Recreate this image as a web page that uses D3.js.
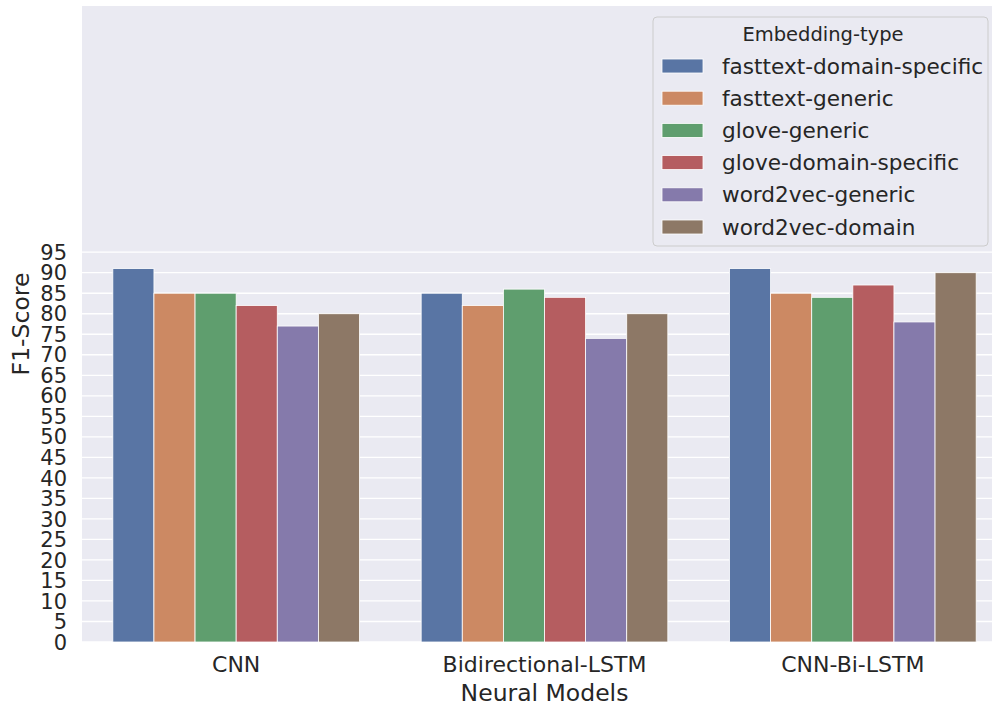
<!DOCTYPE html>
<html>
  <head>
    <meta charset="utf-8">
    <script type="text/javascript" src="https://d3js.org/d3.v7.min.js"></script>
    <style>
      body { margin: 0; background: #ffffff; }
      text { font-family: "DejaVu Sans", sans-serif; fill: #262626; }
    </style>
  </head>
  <body>
    <script>
        // neural models on the x axis
        var models = ["CNN", "Bidirectional-LSTM", "CNN-Bi-LSTM"];

        // embedding types (hue)
        var embeddings = ["fasttext-domain-specific", "fasttext-generic", "glove-generic",
                          "glove-domain-specific", "word2vec-generic", "word2vec-domain"];

        // f1 scores, one list per model in embedding order
        var cnnScores = [91, 85, 85, 82, 77, 80];
        var bilstmScores = [85, 82, 86, 84, 74, 80];
        var cnnBilstmScores = [91, 85, 84, 87, 78, 90];

        var yTicks = d3.range(0, 100, 5);

        var scores = [cnnScores, bilstmScores, cnnBilstmScores];

        var width = 992,
            height = 706,
            margin = {top: 6, left: 82, bottom: 64},
            innerW = 925,             // axes run a bit past the right edge of the picture
            innerH = height - margin.top - margin.bottom;

        // seaborn "deep" with saturation 0.75
        var color = d3.scaleOrdinal()
            .domain(embeddings)
            .range(["#5975a4", "#cc8963", "#5f9e6e", "#b55d60", "#857aab", "#8d7866"]);

        var svg = d3.select("body").append("svg")
            .attr("width", width)
            .attr("height", height);

        var g = svg.append("g")
            .attr("transform", "translate(" + margin.left + "," + margin.top + ")");

        var x0 = d3.scaleBand().domain(models).range([0, innerW]).paddingInner(0).paddingOuter(0);
        var x1 = d3.scaleBand().domain(embeddings)
            .range([x0.bandwidth() * 0.1, x0.bandwidth() * 0.9]);
        var y = d3.scaleLinear().domain([0, 155]).range([innerH, 0]);

        // background
        g.append("rect")
            .attr("width", innerW)
            .attr("height", innerH)
            .style("fill", "#eaeaf2");

        // horizontal grid
        g.append("g")
            .selectAll("line")
            .data(yTicks)
            .enter().append("line")
            .attr("x1", 0).attr("x2", innerW)
            .attr("y1", function(d) { return y(d); })
            .attr("y2", function(d) { return y(d); })
            .style("stroke", "#ffffff")
            .style("stroke-width", 1.3);

        // bars
        var group = g.append("g")
            .selectAll("g")
            .data(models)
            .enter().append("g")
            .attr("transform", function(d) { return "translate(" + x0(d) + ",0)"; });

        group.selectAll("rect")
            .data(function(d, i) {
                return embeddings.map(function(e, j) { return {emb: e, value: scores[i][j]}; });
            })
            .enter().append("rect")
            .attr("x", function(d) { return x1(d.emb); })
            .attr("width", x1.bandwidth())
            .attr("y", function(d) { return y(d.value); })
            .attr("height", function(d) { return y(0) - y(d.value); })
            .style("fill", function(d) { return color(d.emb); })
            .style("stroke", "#ffffff")
            .style("stroke-width", 0.8);

        // y axis
        var yAxis = g.append("g")
            .call(d3.axisLeft(y).tickValues(yTicks).tickSize(0).tickPadding(15));
        yAxis.select(".domain").remove();
        yAxis.selectAll("text")
            .style("font-size", "21px")
            .attr("dy", "0.34em");

        // x axis
        var xAxis = g.append("g")
            .attr("transform", "translate(0," + innerH + ")")
            .call(d3.axisBottom(x0).tickSize(0).tickPadding(0));
        xAxis.select(".domain").remove();
        xAxis.selectAll("text")
            .attr("y", 30)
            .attr("dy", 0)
            .style("font-size", "22px");

        // axis labels
        svg.append("text")
            .attr("x", margin.left + innerW / 2)
            .attr("y", 701)
            .attr("text-anchor", "middle")
            .style("font-size", "23.5px")
            .text("Neural Models");

        svg.append("text")
            .attr("transform", "translate(29," + (margin.top + innerH / 2) + ") rotate(-90)")
            .attr("text-anchor", "middle")
            .style("font-size", "23.5px")
            .text("F1-Score");

        // legend
        var legend = svg.append("g").attr("transform", "translate(653,17)");
        legend.append("rect")
            .attr("width", 335)
            .attr("height", 229)
            .attr("rx", 4)
            .style("fill", "#eaeaf2")
            .style("stroke", "#cccccc")
            .style("stroke-width", 1);

        legend.append("text")
            .attr("x", 170)
            .attr("y", 24)
            .attr("text-anchor", "middle")
            .style("font-size", "19.5px")
            .text("Embedding-type");

        var item = legend.selectAll(".item")
            .data(embeddings)
            .enter().append("g")
            .attr("class", "item")
            .attr("transform", function(d, i) { return "translate(9," + (42 + i * 32.2) + ")"; });

        item.append("rect")
            .attr("width", 41)
            .attr("height", 14)
            .style("fill", function(d) { return color(d); })
            .style("stroke", "#ffffff")
            .style("stroke-width", 0.8);

        item.append("text")
            .attr("x", 60)
            .attr("y", 7)
            .attr("dy", "0.35em")
            .style("font-size", "21.6px")
            .text(function(d) { return d; });
    </script>
  </body>
</html>
